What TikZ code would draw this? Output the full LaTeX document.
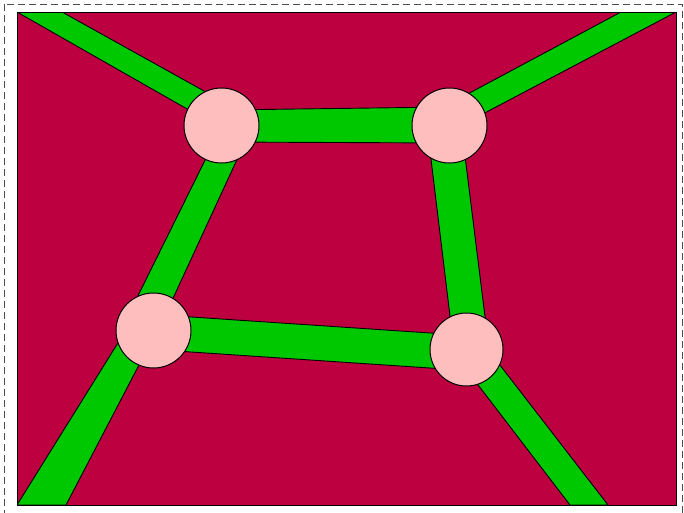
\documentclass[tikz,border=0pt]{standalone}
\definecolor{bgred}{RGB}{188,0,64}
\definecolor{stripgreen}{RGB}{0,200,0}
\definecolor{nodepink}{RGB}{255,190,190}
\tikzset{
  field/.style={fill=bgred, draw=black, line width=0.8pt},
  strip/.style={fill=stripgreen, draw=black, line width=0.9pt, line join=miter},
  hub/.style={circle, fill=nodepink, draw=black, line width=1pt, minimum size=75pt, inner sep=0pt},
  frame/.style={draw=black!70, dashed, dash pattern=on 7pt off 4pt, line width=0.7pt}
}
\begin{document}
\begin{tikzpicture}[x=1pt,y=-1pt]
\useasboundingbox (0,0) rectangle (684,512);
\begin{scope}
\clip (0,0) rectangle (684,512);
\draw[frame] (4,4) rectangle (682.5,513);
\end{scope}
% field
\fill[bgred] (17,12) rectangle (676,505);
\begin{scope}
\clip (17,12) rectangle (676,505);
% outer strips
\draw[strip] (17,12) -- (62,12) -- (222,101) -- (210,122) -- cycle;
\draw[strip] (621,12) -- (676,12) -- (460,126) -- (449,104) -- cycle;
\draw[strip] (17,505) -- (66,505) -- (152,340) -- (126,330) -- cycle;
\draw[strip] (570,505) -- (608,505) -- (496,360) -- (459,360) -- cycle;
% inner strips
\draw[strip] (222,110) -- (449,107) -- (449,143) -- (222,142) -- cycle;
\draw[strip] (222,126) -- (246,140) -- (163,320) -- (121,330) -- cycle;
\draw[strip] (427,126) -- (463,140) -- (489,349) -- (454,349) -- cycle;
\draw[strip] (154,314.5) -- (466,335.4) -- (466,370.4) -- (154,349.5) -- cycle;
\end{scope}
\draw[black, line width=0.8pt] (17,12) rectangle (676,505);
% hubs
\node[hub] (tl) at (221.5,125.5) {};
\node[hub] (tr) at (449.5,125.5) {};
\node[hub] (bl) at (153.5,330.5) {};
\node[hub, minimum size=73pt] (br) at (466.5,349.5) {};
\end{tikzpicture}
\end{document}
